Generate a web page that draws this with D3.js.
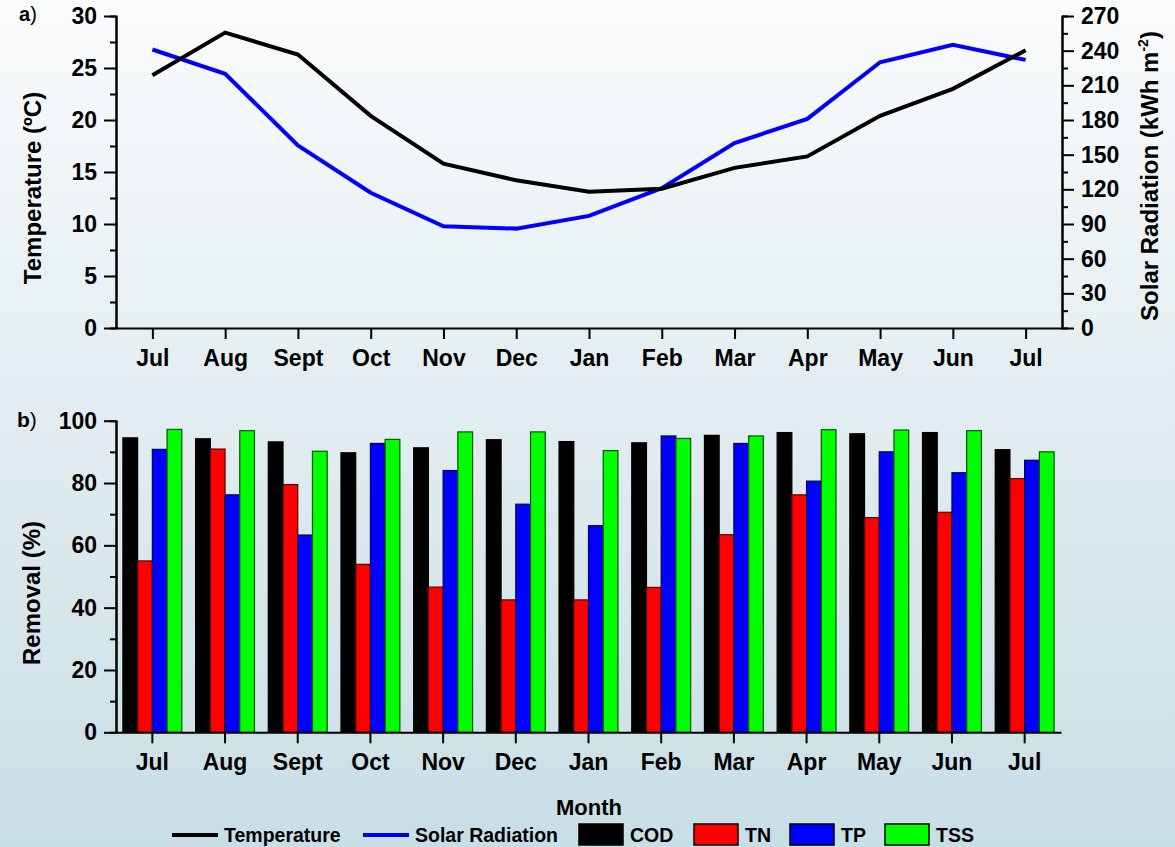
<!DOCTYPE html>
<html>
<head>
<meta charset="utf-8">
<script src="https://cdn.jsdelivr.net/npm/d3@7"></script>
<style>
  body { margin: 0; }
  svg { display: block; }
  text { font-family: "Liberation Sans", Arial, sans-serif; font-weight: bold; fill: #000; }
</style>
</head>
<body>
<svg id="chart" width="1175" height="847"></svg>
<script>
// ---- data ----
const months = ["Jul", "Aug", "Sept", "Oct", "Nov", "Dec", "Jan", "Feb", "Mar", "Apr", "May", "Jun", "Jul"];
const temperature = [24.3, 28.4, 26.3, 20.4, 15.8, 14.2, 13.1, 13.4, 15.4, 16.5, 20.4, 23.0, 26.7];
const solarRadiation = [241, 220, 158, 117, 88, 86, 97, 121, 160, 181, 230, 245, 232];
const cod = [94.5, 94.2, 93.2, 89.7, 91.3, 93.9, 93.3, 92.9, 95.3, 96.2, 95.8, 96.2, 90.7];
const tn  = [55.0, 90.9, 79.5, 53.9, 46.6, 42.5, 42.5, 46.5, 63.4, 76.2, 68.9, 70.6, 81.4];
const tp  = [90.8, 76.2, 63.3, 92.7, 84.0, 73.2, 66.3, 95.1, 92.7, 80.6, 90.0, 83.3, 87.3];
const tss = [97.2, 96.8, 90.2, 94.0, 96.4, 96.4, 90.4, 94.3, 95.1, 97.1, 97.0, 96.8, 90.0];
const tempTicks = [0, 5, 10, 15, 20, 25, 30];
const solarTicks = [0, 30, 60, 90, 120, 150, 180, 210, 240, 270];
const removalTicks = [0, 20, 40, 60, 80, 100];
const seriesNames = ["COD", "TN", "TP", "TSS"];
const seriesColors = ["#000000", "#ff0000", "#0000ff", "#00ff00"];

const svg = d3.select("#chart");

// background wash
const defs = svg.append("defs");
const grad = defs.append("linearGradient").attr("id", "bg").attr("x1", 0).attr("y1", 0).attr("x2", 0).attr("y2", 1);
grad.append("stop").attr("offset", "0%").attr("stop-color", "#fafbfc");
grad.append("stop").attr("offset", "100%").attr("stop-color", "#c8dee5");
svg.append("rect").attr("width", 1175).attr("height", 847).attr("fill", "url(#bg)");

const tickFont = "23px";

function styleAxis(g) {
  g.selectAll("path.domain").attr("stroke", "#000").attr("stroke-width", 2);
  g.selectAll(".tick line").attr("stroke", "#000").attr("stroke-width", 2);
  g.selectAll(".tick text").style("font-size", tickFont).attr("fill", "#000");
}

// ================= panel a) temperature & solar radiation =================
const aTop = 16, aBottom = 328, left = 116, right = 1062;
const xA = d3.scalePoint().domain(d3.range(months.length)).range([left, right]).padding(0.5);
const yTemp = d3.scaleLinear().domain([0, 30]).range([aBottom, aTop]);
const ySolar = d3.scaleLinear().domain([0, 270]).range([aBottom, aTop]);

// minor ticks
svg.append("g").attr("transform", `translate(${left},0)`)
  .call(d3.axisLeft(yTemp).tickValues(d3.range(2.5, 30, 5)).tickSize(6).tickFormat(""))
  .call(styleAxis);
svg.append("g").attr("transform", `translate(${right},0)`)
  .call(d3.axisRight(ySolar).tickValues(d3.range(15, 270, 30)).tickSize(6).tickFormat(""))
  .call(styleAxis);

svg.append("g").attr("transform", `translate(${left},0)`)
  .call(d3.axisLeft(yTemp).tickValues(tempTicks).tickSize(12).tickSizeOuter(0).tickPadding(7))
  .call(styleAxis);
svg.append("g").attr("transform", `translate(${right},0)`)
  .call(d3.axisRight(ySolar).tickValues(solarTicks).tickSize(12).tickSizeOuter(0).tickPadding(7))
  .call(styleAxis);
svg.append("g").attr("transform", `translate(0,${aBottom})`)
  .call(d3.axisBottom(xA).tickSize(11).tickSizeOuter(0).tickPadding(11).tickFormat(i => months[i]))
  .call(styleAxis);

const tempLine = d3.line().x((d, i) => xA(i)).y(d => yTemp(d));
const solarLine = d3.line().x((d, i) => xA(i)).y(d => ySolar(d));
svg.append("path").datum(solarRadiation).attr("d", solarLine)
  .attr("fill", "none").attr("stroke", "#0000ff").attr("stroke-width", 4);
svg.append("path").datum(temperature).attr("d", tempLine)
  .attr("fill", "none").attr("stroke", "#000").attr("stroke-width", 4);

svg.append("text").attr("transform", "translate(41,188) rotate(-90)")
  .attr("text-anchor", "middle").style("font-size", "24px").text("Temperature (ºC)");

const solarTitle = svg.append("text").attr("transform", "translate(1158,176) rotate(-90)")
  .attr("text-anchor", "middle").style("font-size", "24px");
solarTitle.append("tspan").text("Solar Radiation (kWh m");
solarTitle.append("tspan").attr("dy", -10).style("font-size", "14px").text("-2");
solarTitle.append("tspan").attr("dy", 10).text(")");

const panelA = svg.append("text").attr("x", 19).attr("y", 21).style("font-size", "20px");
panelA.append("tspan").text("a");
panelA.append("tspan").style("font-weight", "normal").text(")");

// ================= panel b) removal efficiency =================
const bTop = 420.7, bBottom = 732.3, bRight = 1061;
const xB = d3.scaleBand().domain(d3.range(months.length)).range([left, bRight])
  .paddingInner(0.19).paddingOuter(0.095);
const xSub = d3.scaleBand().domain(seriesNames).range([0, xB.bandwidth()]);
const yRem = d3.scaleLinear().domain([0, 100]).range([bBottom, bTop]);

const seriesData = [cod, tn, tp, tss];
const groups = svg.append("g").selectAll("g").data(months).join("g")
  .attr("transform", (d, i) => `translate(${xB(i)},0)`);
groups.selectAll("rect")
  .data((d, i) => seriesNames.map((s, k) => ({ s, k, v: seriesData[k][i] })))
  .join("rect")
  .attr("x", d => xSub(d.s))
  .attr("width", xSub.bandwidth())
  .attr("y", d => yRem(d.v))
  .attr("height", d => bBottom - yRem(d.v))
  .attr("fill", d => seriesColors[d.k])
  .attr("stroke", d => d3.color(seriesColors[d.k]).darker(3))
  .attr("stroke-width", 1.2);

svg.append("g").attr("transform", `translate(${left},0)`)
  .call(d3.axisLeft(yRem).tickValues(d3.range(10, 100, 20)).tickSize(6).tickFormat(""))
  .call(styleAxis);
svg.append("g").attr("transform", `translate(${left},0)`)
  .call(d3.axisLeft(yRem).tickValues(removalTicks).tickSize(12).tickSizeOuter(0).tickPadding(7))
  .call(styleAxis);
svg.append("g").attr("transform", `translate(0,${bBottom})`)
  .call(d3.axisBottom(xB).tickSize(11).tickSizeOuter(0).tickPadding(10).tickFormat(i => months[i]))
  .call(styleAxis);

svg.append("text").attr("transform", "translate(40,593) rotate(-90)")
  .attr("text-anchor", "middle").style("font-size", "24px").text("Removal (%)");

const panelB = svg.append("text").attr("x", 17).attr("y", 427).style("font-size", "21px");
panelB.append("tspan").text("b");
panelB.append("tspan").style("font-weight", "normal").text(")");

svg.append("text").attr("x", 589).attr("y", 815).attr("text-anchor", "middle")
  .style("font-size", "22px").text("Month");

// ================= legend =================
const legend = svg.append("g");
const legendLines = [
  { label: "Temperature", color: "#000", x: 172 },
  { label: "Solar Radiation", color: "#0000ff", x: 363 }
];
legendLines.forEach(d => {
  legend.append("line").attr("x1", d.x).attr("x2", d.x + 46).attr("y1", 835).attr("y2", 835)
    .attr("stroke", d.color).attr("stroke-width", 4);
  legend.append("text").attr("x", d.x + 52).attr("y", 842).style("font-size", "19.5px").text(d.label);
});
const legendBoxX = [579, 694, 790, 885];
seriesNames.forEach((s, k) => {
  legend.append("rect").attr("x", legendBoxX[k]).attr("y", 824).attr("width", 44).attr("height", 21)
    .attr("fill", seriesColors[k]).attr("stroke", "#000").attr("stroke-width", 1.5);
  legend.append("text").attr("x", legendBoxX[k] + 51).attr("y", 842).style("font-size", "19.5px").text(s);
});
</script>
</body>
</html>
